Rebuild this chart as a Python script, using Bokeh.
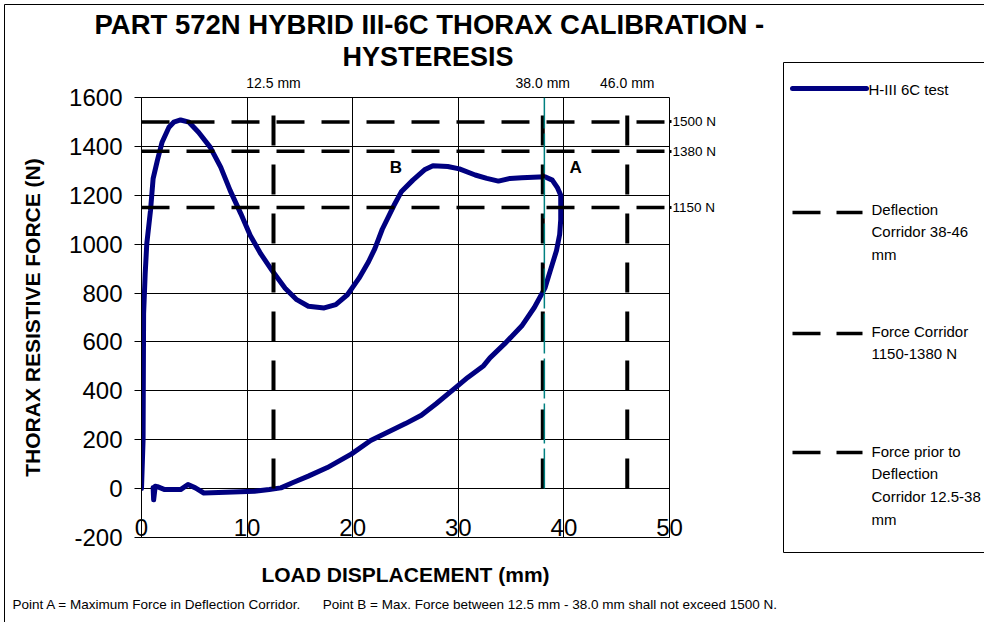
from bokeh.plotting import figure
from bokeh.models import Range1d, FixedTicker, LinearAxis, Title, Span
from bokeh.core.properties import value
from bokeh.embed import file_html
from bokeh.resources import INLINE

# ---------------- data ----------------
displacement_mm = [
    0.0, 0.15, 0.2, 0.35, 0.5, 0.85, 1.1, 1.5, 1.95, 2.6, 3.05, 3.7, 4.5, 5.4,
    6.5, 7.5, 8.4, 9.4, 10.3, 11.3, 12.4, 13.6, 14.7, 15.8, 17.3, 18.4, 19.5,
    20.6, 21.5, 22.1, 22.8, 23.9, 24.6, 25.7, 26.8, 27.6, 29.0, 30.1, 31.6,
    32.7, 33.8, 34.9, 36.0, 38.2, 38.9, 39.4, 39.7, 39.7, 39.6, 39.3, 38.8,
    38.2, 37.2, 36.0, 34.4, 33.0, 32.4, 30.9, 29.8, 27.9, 26.5, 25.0, 23.5,
    21.7, 19.9, 17.6, 15.8, 14.3, 13.2, 12.1, 10.7, 8.0, 5.9, 5.1, 4.4, 3.7,
    2.2, 1.5, 1.3, 1.15, 1.1,
]
force_N = [
    0, 200, 716, 880, 1002, 1137, 1268, 1342, 1417, 1478, 1499, 1508, 1499, 1458,
    1397, 1315, 1219, 1125, 1035, 960, 890, 820, 773, 746, 739, 753, 793,
    861, 928, 982, 1061, 1158, 1214, 1262, 1304, 1321, 1318, 1308, 1283,
    1269, 1258, 1269, 1272, 1276, 1262, 1230, 1200, 1100, 1040, 974, 904,
    820, 741, 665, 593, 535, 503, 455, 415, 347, 300, 266, 235,
    197, 142, 86, 51, 24, 3, -4, -11, -15, -18, 3, 17, -4,
    -4, 8, 10, -46, 5,
]
force_corridor_N = [1500, 1380, 1150]
force_corridor_labels = ["1500 N", "1380 N", "1150 N"]
deflection_marks_mm = [12.5, 38.0, 46.0]
deflection_labels = ["12.5 mm", "38.0 mm", "46.0 mm"]
point_a_displacement_mm = 38.15
x_ticks = [0, 10, 20, 30, 40, 50]
y_ticks = [-200, 0, 200, 400, 600, 800, 1000, 1200, 1400, 1600]
y_tick_labels = ["-200", "0", "200", "400", "600", "800", "1000", "1200", "1400", "1600"]
point_names = ["B", "A"]
title_lines = ["PART 572N HYBRID III-6C THORAX CALIBRATION -", "HYSTERESIS"]
legend_labels = [
    "H-III 6C test",
    "Deflection\nCorridor 38-46\nmm",
    "Force Corridor\n1150-1380 N",
    "Force prior to\nDeflection\nCorridor 12.5-38\nmm",
]
NBSP = "\u00a0"
footer_text = ("Point A = Maximum Force in Deflection Corridor." + NBSP * 6 +
               "Point B = Max. Force between 12.5 mm - 38.0 mm shall not exceed 1500 N.")

FONT = "Liberation Sans"
NAVY = "#000080"

# frame position on the canvas (pixels)
FL, FR, FT, FB = 141, 669, 97, 537
W, H = 984, 622

p = figure(width=W, height=H, x_range=Range1d(0, 50), y_range=Range1d(-200, 1600),
           output_backend="svg", toolbar_location=None, title=None,
           min_border_left=FL, min_border_right=W - FR,
           min_border_top=FT, min_border_bottom=H - FB)
p.background_fill_color = "white"
p.border_fill_color = "white"
p.outline_line_color = "black"
p.outline_line_width = 1

# pixel-space helper ranges for the legend panel drawn beside the frame
p.extra_x_ranges = {"px": Range1d(FL, FR)}
p.extra_y_ranges = {"py": Range1d(FB, FT)}

xa = p.xaxis[0]
xa.ticker = FixedTicker(ticks=x_ticks)
xa.major_tick_out = 0
xa.major_tick_in = 0
xa.minor_tick_line_color = None
xa.axis_line_color = "black"
xa.major_label_standoff = -19
xa.major_label_text_font = FONT
xa.major_label_text_font_size = "24px"
xa.major_label_text_color = "black"
xa.axis_label = "LOAD DISPLACEMENT (mm)"
xa.axis_label_text_font = FONT
xa.axis_label_text_font_size = "21px"
xa.axis_label_text_font_style = "bold"
xa.axis_label_text_color = "black"
xa.axis_label_standoff = 24

ya = p.yaxis[0]
ya.ticker = FixedTicker(ticks=y_ticks)
ya.major_label_overrides = {float(v): t for v, t in zip(y_ticks, y_tick_labels)}
ya.major_tick_out = 7
ya.major_tick_in = 0
ya.minor_tick_line_color = None
ya.axis_line_color = "black"
ya.major_label_standoff = 12
ya.major_label_text_font = FONT
ya.major_label_text_font_size = "24px"
ya.major_label_text_color = "black"
ya.axis_label = "THORAX RESISTIVE FORCE (N)"
ya.axis_label_text_font = FONT
ya.axis_label_text_font_size = "21px"
ya.axis_label_text_font_style = "bold"
ya.axis_label_text_color = "black"
ya.axis_label_standoff = 22

p.xgrid.ticker = FixedTicker(ticks=x_ticks)
p.ygrid.ticker = FixedTicker(ticks=y_ticks)
p.grid.grid_line_color = "black"
p.grid.grid_line_width = 1
p.grid.grid_line_alpha = 1.0

top_axis = LinearAxis(
    ticker=FixedTicker(ticks=deflection_marks_mm),
    major_label_overrides={float(v): t for v, t in zip(deflection_marks_mm, deflection_labels)},
    axis_line_color=None, major_tick_line_color=None, minor_tick_line_color=None,
    major_label_standoff=1, major_label_text_font=FONT,
    major_label_text_font_size="14px", major_label_text_color="black")
p.add_layout(top_axis, "above")

# two-line title, each line its own Title (later = further out)
p.add_layout(Title(text=title_lines[1], align="left", offset=201, standoff=0,
                   text_font=FONT, text_font_size="27px", text_font_style="bold",
                   text_color="black"), "above")
p.add_layout(Title(text=title_lines[0], align="left", offset=-47, standoff=0,
                   text_font=FONT, text_font_size="27.5px", text_font_style="bold",
                   text_color="black"), "above")

right_axis = LinearAxis(
    ticker=FixedTicker(ticks=force_corridor_N),
    major_label_overrides={float(v): t for v, t in zip(force_corridor_N, force_corridor_labels)},
    axis_line_color=None, major_tick_out=2, major_tick_in=0, major_tick_line_width=3,
    major_tick_line_color="black", minor_tick_line_color=None,
    major_label_standoff=1, major_label_text_font=FONT,
    major_label_text_font_size="13.5px", major_label_text_color="black")
p.add_layout(right_axis, "right")

footer = Title(text=footer_text, align="left", offset=12 - FL, standoff=13,
               text_font=FONT, text_font_size="13.5px", text_font_style="normal",
               text_color="black")
p.add_layout(footer, "below")

# hysteresis curve
p.line(displacement_mm, force_N, line_color=NAVY, line_width=5,
       line_join="round", line_cap="round")

# force corridor lines
for f in force_corridor_N:
    p.add_layout(Span(location=f, dimension="width", line_color="black",
                      line_width=3.5, line_dash="28 17"))

# deflection corridor lines
p.segment(x0=deflection_marks_mm, y0=[0] * len(deflection_marks_mm),
          x1=deflection_marks_mm, y1=[1600] * len(deflection_marks_mm),
          line_color="black", line_width=4, line_dash="30 19")

# point A marker line
p.segment(x0=[point_a_displacement_mm], y0=[0], x1=[point_a_displacement_mm], y1=[1600],
          line_color="#008080", line_width=1.5, line_dash="40 5")

p.text(x=[24.1, 41.1], y=[1313, 1313], text=point_names, text_font=value(FONT),
       text_font_style="bold", text_font_size="17px", text_align="center",
       text_baseline="middle", text_color="black")

# ---------------- chart-area border and legend (pixel ranges) ----------------
LG = dict(x_range_name="px", y_range_name="py", level="annotation")
p.quad(left=[4], right=[1200], top=[4], bottom=[800], fill_color=None,
       line_color="black", line_width=1, **LG)

p.quad(left=[783], right=[996], top=[62], bottom=[552], fill_color="white",
       line_color="black", line_width=1, **LG)

sample_y = [88, 212, 333, 452]
p.line([792, 866], [sample_y[0]] * 2, line_color=NAVY, line_width=5, line_cap="round", **LG)
for yy in sample_y[1:]:
    p.line([792, 862], [yy, yy], line_color="black", line_width=3.5, line_dash="28 16", **LG)

p.text(x=[868, 871, 871, 871], y=[88 - 8, 210 - 10, 332 - 10, 452 - 10],
       text=legend_labels, text_font=value(FONT), text_font_size="15px",
       text_baseline="top", text_align="left", text_line_height=1.34,
       text_color="black", **LG)

open("out.html", "w").write(file_html(p, INLINE))
